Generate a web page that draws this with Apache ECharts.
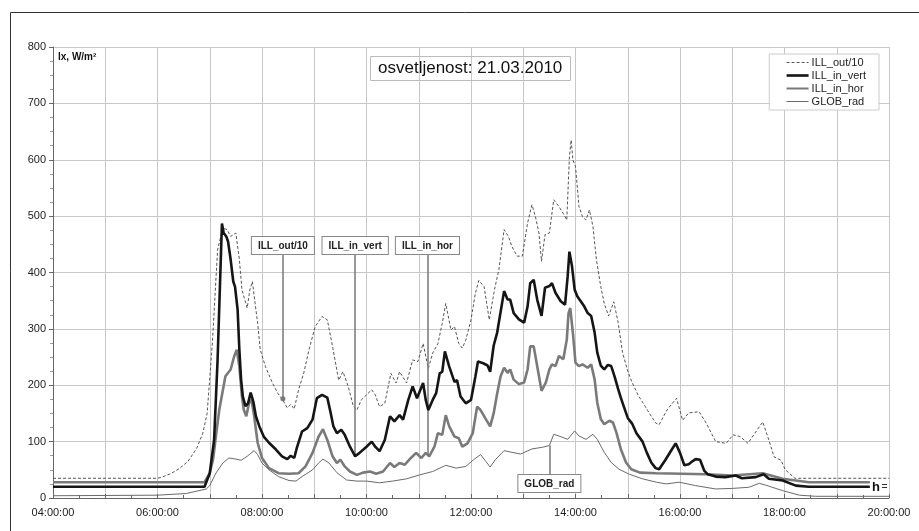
<!DOCTYPE html>
<html><head><meta charset="utf-8">
<script src="https://cdn.jsdelivr.net/npm/echarts@6/dist/echarts.min.js"></script>
<style>html,body{margin:0;padding:0;background:#fff}#c{width:919px;height:531px}</style>
</head><body><div id="c"></div>
<script>
// ---- data ----
const outTimes = ["04:00","06:00","06:05","06:15","06:25","06:35","06:45","06:52","06:57","07:03","07:09","07:15","07:20","07:24","07:30","07:34","07:37","07:43","07:46","07:49","07:52","07:55","07:58","08:04","08:12","08:18","08:23","08:29","08:33","08:37","08:42","08:48","08:54","09:01","09:09","09:15","09:21","09:25","09:28","09:33","09:39","09:45","09:49","09:54","10:00","10:06","10:10","10:15","10:21","10:28","10:34","10:38","10:46","10:53","10:59","11:05","11:11","11:16","11:22","11:27","11:31","11:37","11:41","11:46","11:50","11:54","12:00","12:05","12:09","12:15","12:21","12:27","12:32","12:38","12:43","12:47","12:53","12:59","13:05","13:10","13:14","13:18","13:21","13:25","13:30","13:35","13:41","13:47","13:50","13:53","13:55","13:57","14:00","14:04","14:08","14:12","14:16","14:20","14:24","14:29","14:33","14:38","14:44","14:49","14:54","15:00","15:05","15:12","15:17","15:25","15:32","15:36","15:45","15:56","16:03","16:10","16:22","16:30","16:41","16:53","17:01","17:09","17:18","17:26","17:35","17:42","17:48","17:56","18:01","18:12","20:00"];
const outValues = [35,35,37,43,52,65,88,115,150,275,440,479,476,464,470,423,369,337,369,384,346,310,263,233,204,186,176,160,166,158,192,222,263,304,322,316,269,235,209,224,198,162,156,174,183,192,183,162,168,221,204,224,204,245,242,274,230,257,274,310,345,298,304,274,266,280,316,363,386,375,316,370,405,476,464,446,429,429,488,520,499,470,420,467,470,529,517,502,493,605,635,600,588,517,499,493,511,482,423,375,345,323,348,311,258,225,205,182,170,150,133,130,156,177,138,151,153,133,100,97,112,109,97,115,135,103,73,67,50,35,35];

const vertTimes = ["04:00","06:54","07:00","07:05","07:09","07:14","07:16","07:19","07:21","07:24","07:27","07:29","07:32","07:34","07:36","07:38","07:41","07:44","07:47","07:50","07:53","07:57","08:02","08:08","08:16","08:23","08:29","08:33","08:37","08:40","08:46","08:52","08:58","09:03","09:09","09:15","09:19","09:22","09:26","09:31","09:35","09:41","09:47","09:52","10:00","10:06","10:10","10:15","10:21","10:27","10:32","10:38","10:42","10:48","10:53","10:58","11:05","11:08","11:11","11:16","11:20","11:24","11:27","11:30","11:35","11:41","11:44","11:48","11:54","12:00","12:05","12:08","12:14","12:19","12:22","12:26","12:30","12:38","12:42","12:45","12:49","12:55","13:01","13:05","13:08","13:12","13:16","13:21","13:25","13:30","13:33","13:37","13:43","13:48","13:51","13:53","13:56","13:59","14:02","14:06","14:10","14:14","14:18","14:22","14:25","14:29","14:33","14:37","14:41","14:45","14:49","14:52","14:56","15:00","15:05","15:10","15:17","15:22","15:27","15:32","15:36","15:43","15:49","15:55","16:00","16:05","16:10","16:15","16:18","16:23","16:28","16:32","16:41","16:52","17:04","17:11","17:27","17:36","17:42","17:58","18:13","18:28","19:38"];
const vertValues = [20,20,44,103,245,487,470,464,455,423,384,375,334,263,210,180,163,168,187,171,145,127,109,98,86,74,69,75,71,89,118,124,139,177,183,178,150,127,115,121,112,91,74,80,91,100,91,83,103,145,136,147,139,174,198,177,204,174,156,174,186,221,224,260,233,206,209,180,168,174,215,242,239,235,224,270,293,367,352,352,328,317,311,340,381,387,352,323,373,376,381,364,349,343,393,437,411,370,358,349,340,328,323,293,258,235,228,236,234,215,193,178,160,142,132,115,100,80,63,53,51,67,82,97,80,58,60,66,69,68,48,42,38,37,40,35,37,42,34,31,22,20,20];

const horTimes = ["04:00","06:54","07:00","07:04","07:07","07:11","07:18","07:24","07:28","07:31","07:34","07:37","07:39","07:42","07:45","07:48","07:51","07:55","08:00","08:08","08:19","08:31","08:42","08:50","08:58","09:05","09:10","09:15","09:21","09:26","09:30","09:35","09:41","09:49","09:56","10:04","10:11","10:19","10:27","10:32","10:38","10:44","10:51","10:57","11:03","11:08","11:12","11:18","11:22","11:27","11:31","11:35","11:41","11:46","11:50","11:56","12:02","12:07","12:11","12:17","12:22","12:26","12:30","12:34","12:38","12:42","12:45","12:49","12:55","13:01","13:05","13:08","13:12","13:16","13:21","13:26","13:30","13:33","13:37","13:41","13:46","13:50","13:52","13:54","13:57","14:00","14:04","14:08","14:14","14:18","14:22","14:25","14:29","14:33","14:39","14:43","14:47","14:52","14:58","15:04","15:14","15:33","16:30","17:00","17:35","17:58","18:28","19:38"];
const horValues = [28,28,44,70,109,157,216,228,251,263,233,180,157,145,168,174,145,98,71,53,44,43,44,56,80,109,122,103,74,62,68,56,47,41,45,47,43,47,62,55,62,59,71,80,71,80,74,91,115,112,147,127,109,106,91,97,115,162,156,140,127,150,185,216,231,222,228,210,202,205,228,269,269,234,190,205,228,237,234,252,246,281,328,337,293,240,234,237,231,237,210,169,140,131,137,134,116,87,63,51,45,44,42,40,44,34,28,28];

const globTimes = ["04:00","06:00","06:33","06:56","07:00","07:07","07:15","07:22","07:30","07:36","07:43","07:51","07:55","08:00","08:08","08:19","08:31","08:39","08:46","08:58","09:05","09:10","09:17","09:26","09:37","09:49","10:00","10:15","10:30","10:46","11:01","11:16","11:31","11:43","11:54","12:03","12:11","12:17","12:22","12:28","12:38","12:47","12:57","13:10","13:22","13:30","13:35","13:41","13:51","13:59","14:04","14:12","14:20","14:25","14:33","14:41","14:50","15:02","15:17","15:33","15:44","15:59","16:18","16:41","17:00","17:19","17:31","17:38","17:58","18:17","18:36","20:00"];
const globValues = [4,5,8,16,22,44,62,71,69,67,74,84,77,62,50,38,31,30,38,50,62,69,62,45,32,30,30,27,30,34,41,47,58,53,56,68,77,65,55,68,84,81,78,87,90,93,113,110,104,119,110,104,113,104,81,63,51,42,34,28,25,28,22,16,17,19,26,23,13,5,3,3];

const seriesNames = ["ILL_out/10","ILL_in_vert","ILL_in_hor","GLOB_rad"];
// annotations: label, time, value at line, value at box side
const annNames = ["ILL_out/10","ILL_in_vert","ILL_in_hor","GLOB_rad"];
const annTimes = ["08:24","09:47","11:10","13:30"];
const annFrom = [176,74,76,93];
const annTo = [433,433,433,41];
const xTickHours = [4,6,8,10,12,14,16,18,20];

// ---- helpers ----
function toH(s){const p=s.split(':').map(Number);return p[0]+p[1]/60;}
function pairs(t,v){return t.map((s,i)=>[toH(s),v[i]]);}
function pad(n){return (n<10?'0':'')+n;}

const FONT = '"Liberation Sans", Arial, sans-serif';
const boxLabel = {show:true, position:'end', distance:0, color:'#222', fontWeight:'bold', fontSize:10, fontFamily:FONT,
  backgroundColor:'#fff', borderColor:'#888', borderWidth:1, padding:[4,6,3,6]};

function ann(i, withDot){
  return {silent:true, symbol: withDot?['circle','none']:['none','none'], symbolSize:5,
    lineStyle:{color:'#777', width:1.5, type:'solid'},
    label: Object.assign({}, boxLabel, {formatter: annNames[i]}),
    emphasis:{disabled:true},
    data:[[{coord:[toH(annTimes[i]),annFrom[i]]},{coord:[toH(annTimes[i]),annTo[i]]}]]};
}

const legendWidths = [1, 2.6, 2, 1];

const chart = echarts.init(document.getElementById('c'), null, {renderer:'canvas'});
chart.setOption({
  animation:false,
  backgroundColor:'#fff',
  textStyle:{fontFamily:FONT},
  title:{text:'osvetljenost: 21.03.2010', left:370, top:56, padding:[4,8,4,8], borderColor:'#bbb', borderWidth:1,
    textStyle:{fontSize:17, fontWeight:'normal', color:'#111', fontFamily:FONT}},
  legend:{orient:'vertical', right:40, top:54, itemWidth:22, itemHeight:10, itemGap:2,
    backgroundColor:'#fff', borderColor:'#ccc', borderWidth:1, padding:[3,13,3,16],
    itemStyle:{opacity:0, borderWidth:0},
    textStyle:{fontSize:11, color:'#222', fontFamily:FONT, padding:[0,0,0,-2]},
    data:seriesNames.map((n,i)=>({name:n, lineStyle:{width:legendWidths[i]}}))},
  grid:{left:53, right:30, top:47, bottom:33, containLabel:false},
  xAxis:{type:'value', min:4, max:20, interval:1,
    axisLine:{lineStyle:{color:'#666'}},
    axisTick:{inside:true, length:4, lineStyle:{color:'#666'}},
    minorTick:{show:true, splitNumber:2, length:3, lineStyle:{color:'#666'}},
    splitLine:{show:true, lineStyle:{color:'#c8c8c8', width:1}},
    axisLabel:{fontSize:11, color:'#222', margin:9, fontFamily:FONT,
      formatter:v=> xTickHours.indexOf(Math.round(v))>=0 && Math.abs(v-Math.round(v))<1e-6 ? pad(Math.round(v))+':00:00' : ''}},
  yAxis:{type:'value', min:0, max:800, interval:100,
    axisLine:{show:true, lineStyle:{color:'#666'}},
    axisTick:{show:true, length:4, lineStyle:{color:'#666'}},
    minorTick:{show:true, splitNumber:4, length:3, lineStyle:{color:'#999'}},
    splitLine:{show:true, lineStyle:{color:'#c8c8c8', width:1}},
    axisLabel:{fontSize:11, color:'#222', margin:7, fontFamily:FONT}},
  series:[
    {name:seriesNames[0], type:'line', showSymbol:false, symbol:'none', data:pairs(outTimes,outValues),
      lineStyle:{color:'#555', width:1, type:[3,2]}, itemStyle:{color:'#555'}, z:3, markLine:ann(0,true)},
    {name:seriesNames[1], type:'line', showSymbol:false, symbol:'none', data:pairs(vertTimes,vertValues),
      lineStyle:{color:'#151515', width:2.6}, itemStyle:{color:'#151515'}, z:5, markLine:ann(1,false)},
    {name:seriesNames[2], type:'line', showSymbol:false, symbol:'none', data:pairs(horTimes,horValues),
      lineStyle:{color:'#7a7a7a', width:2.6}, itemStyle:{color:'#7a7a7a'}, z:4, markLine:ann(2,false)},
    {name:seriesNames[3], type:'line', showSymbol:false, symbol:'none', data:pairs(globTimes,globValues),
      lineStyle:{color:'#6a6a6a', width:1}, itemStyle:{color:'#6a6a6a'}, z:3, markLine:ann(3,false)}
  ],
  graphic:[
    {type:'line', shape:{x1:10.5,y1:12.5,x2:919,y2:12.5}, style:{stroke:'#333', lineWidth:1}, silent:true},
    {type:'line', shape:{x1:10.5,y1:12.5,x2:10.5,y2:531}, style:{stroke:'#333', lineWidth:1}, silent:true},
    {type:'text', left:58, top:52, style:{text:'lx, W/m²', font:'bold 10px '+FONT, fill:'#111'}, silent:true},
    {type:'text', left:872, top:481, style:{text:'h', font:'bold 13px '+FONT, fill:'#111'}, silent:true},
    {type:'line', shape:{x1:882,y1:484.5,x2:887,y2:484.5}, style:{stroke:'#333', lineWidth:1}, silent:true},
    {type:'line', shape:{x1:882,y1:487.5,x2:887,y2:487.5}, style:{stroke:'#333', lineWidth:1}, silent:true}
  ]
});
</script></body></html>
